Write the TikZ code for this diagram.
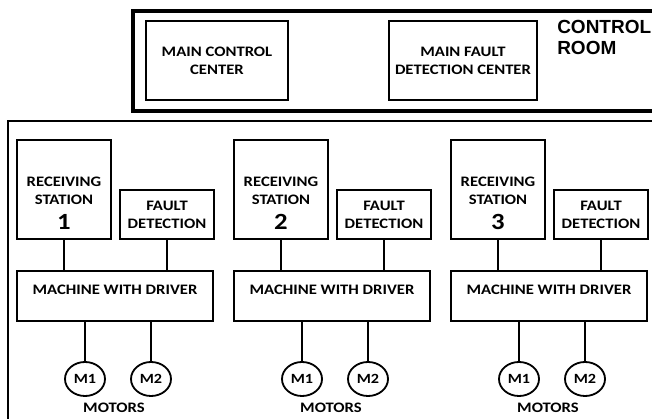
\documentclass[tikz,border=0pt]{standalone}
\usepackage{fontspec}
\setmainfont{Carlito}[FakeStretch=1.15]
\newfontfamily\roomfont{Liberation Sans}
\usepackage{tikz}
\usetikzlibrary{positioning,shapes.geometric,calc}

\tikzset{
	box/.style={draw, line width=1.3pt, rectangle, inner sep=0pt, align=center},
	motor/.style={draw, line width=1.3pt, ellipse, minimum width=1cm, minimum height=0.85cm, inner sep=0pt, font=\bfseries\fontsize{10}{10}\selectfont},
	link/.style={line width=1.4pt},
	shaft/.style={line width=2pt}
}

\begin{document}
\begin{tikzpicture}[x=0.025cm, y=-0.025cm, font=\bfseries\fontsize{10.3}{12.7}\selectfont]
		\useasboundingbox (0,0) rectangle (652,419);
		\clip (0,0) rectangle (652,419);
		% control room
		\draw [line width=2.2pt] (133,11) rectangle (680,111);
		\node [box, minimum width=3.55cm, minimum height=1.975cm](mcc) at (217,60.5) {MAIN CONTROL\\CENTER};
		\node [box, minimum width=3.7cm, minimum height=1.975cm](mfdc) at (463,60.5) {MAIN FAULT\\DETECTION CENTER};
		\node [anchor=north west, align=left, inner sep=0pt, font=\roomfont\bfseries\fontsize{13.5}{15}\selectfont](room) at (557,20) {CONTROL\\ROOM};
		% field
		\draw [line width=1.4pt] (8,121) rectangle (680,440);
		\foreach \n/\dx in {1/17, 2/234, 3/451}
		{
		\begin{scope}[shift={(\dx,0)}]
		\node [box, minimum width=2.35cm, minimum height=2.475cm](rs\n) at (47,189.5) {};
		\node [align=center](rstext\n) at (47,203) {RECEIVING\\STATION\\[5pt]{\fontsize{16.5}{16.5}\selectfont \n}};
		\node [box, minimum width=2.35cm, minimum height=1.225cm](fd\n) at (150,214.5) {FAULT\\DETECTION};
		\node [box, minimum width=4.9cm, text height=16.7pt, text depth=18.9pt](mwd\n) at (98,296) {MACHINE WITH DRIVER};
		\node [motor](ma\n) at (68,379) {M1};
		\node [motor](mb\n) at (134,379) {M2};
		\node [](motors\n) at (97,407.5) {MOTORS};
		\draw [link] (rs\n.south) -- (rs\n.south |- mwd\n.north);
		\draw [link] (fd\n.south) -- (fd\n.south |- mwd\n.north);
		\draw [shaft] (ma\n.north) -- (ma\n.north |- mwd\n.south);
		\draw [shaft] (mb\n.north) -- (mb\n.north |- mwd\n.south);
		\end{scope}
		}
\end{tikzpicture}
\end{document}
